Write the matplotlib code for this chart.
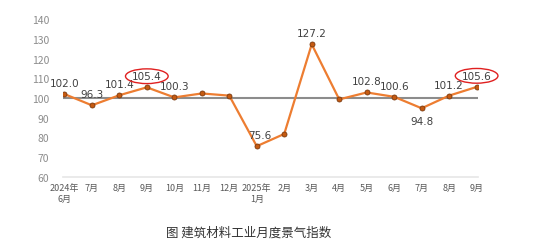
import matplotlib
matplotlib.use("Agg")
import matplotlib.pyplot as plt

plt.rcParams["font.family"] = ["Noto Sans CJK SC", "DejaVu Sans"]

months = ["2024年\n6月", "7月", "8月", "9月", "10月", "11月", "12月", "2025年\n1月",
          "2月", "3月", "4月", "5月", "6月", "7月", "8月", "9月"]
index_vals = [102.0, 96.3, 101.4, 105.4, 100.3, 102.3, 101.2, 75.6,
              81.8, 127.2, 99.3, 102.8, 100.6, 94.8, 101.2, 105.6]
# which points carry a value label, and whether it goes below the point
labeled = [0, 1, 2, 3, 4, 7, 9, 11, 12, 13, 14, 15]
below = [13]
circled = [3, 15]

fig = plt.figure(figsize=(5.54, 2.53), dpi=100)
ax = fig.add_axes([63 / 554, 1 - 178 / 253, (478 - 63) / 554, (178 - 20) / 253])

x = list(range(len(months)))
ax.axhline(100, color="#8c8c8c", lw=1.5, zorder=1)
ax.plot(x, index_vals, color="#ED7D31", lw=1.6, zorder=2)
ax.scatter(x, index_vals, s=13, color="#C55A11", edgecolor="#7a3a10", lw=0.6, zorder=3)

for i in labeled:
    v = index_vals[i]
    dy = -9 if i in below else 8
    dx = 2 if i == 7 else 0
    box = None
    if i in circled:
        box = dict(boxstyle="ellipse,pad=0.02", fc="none", ec="#e02020", lw=1.0)
    ax.annotate(f"{v:.1f}", (i, v), xytext=(dx, dy), textcoords="offset points",
                ha="center", va="center", fontsize=7.5, color="#404040",
                family="DejaVu Sans", bbox=box, zorder=4)

ax.set_xlim(-0.05, len(months) - 0.95)
ax.set_ylim(60, 140)
ax.set_yticks(range(60, 141, 10))
ax.set_xticks(x)
ax.set_xticklabels(months, fontsize=6.5, color="#595959", linespacing=1.3)
ax.tick_params(axis="y", labelsize=7.5, labelcolor="#8c8c8c", length=0, pad=10)
ax.tick_params(axis="x", length=0, pad=4)
for side in ["top", "right", "left"]:
    ax.spines[side].set_visible(False)
ax.spines["bottom"].set_color("#e6e6e6")
ax.spines["bottom"].set_linewidth(1.2)

fig.text(0.448, 1 - 233 / 253, "图 建筑材料工业月度景气指数", ha="center", va="center",
         fontsize=9, color="#333333")

fig.savefig("out.png", dpi=100)
